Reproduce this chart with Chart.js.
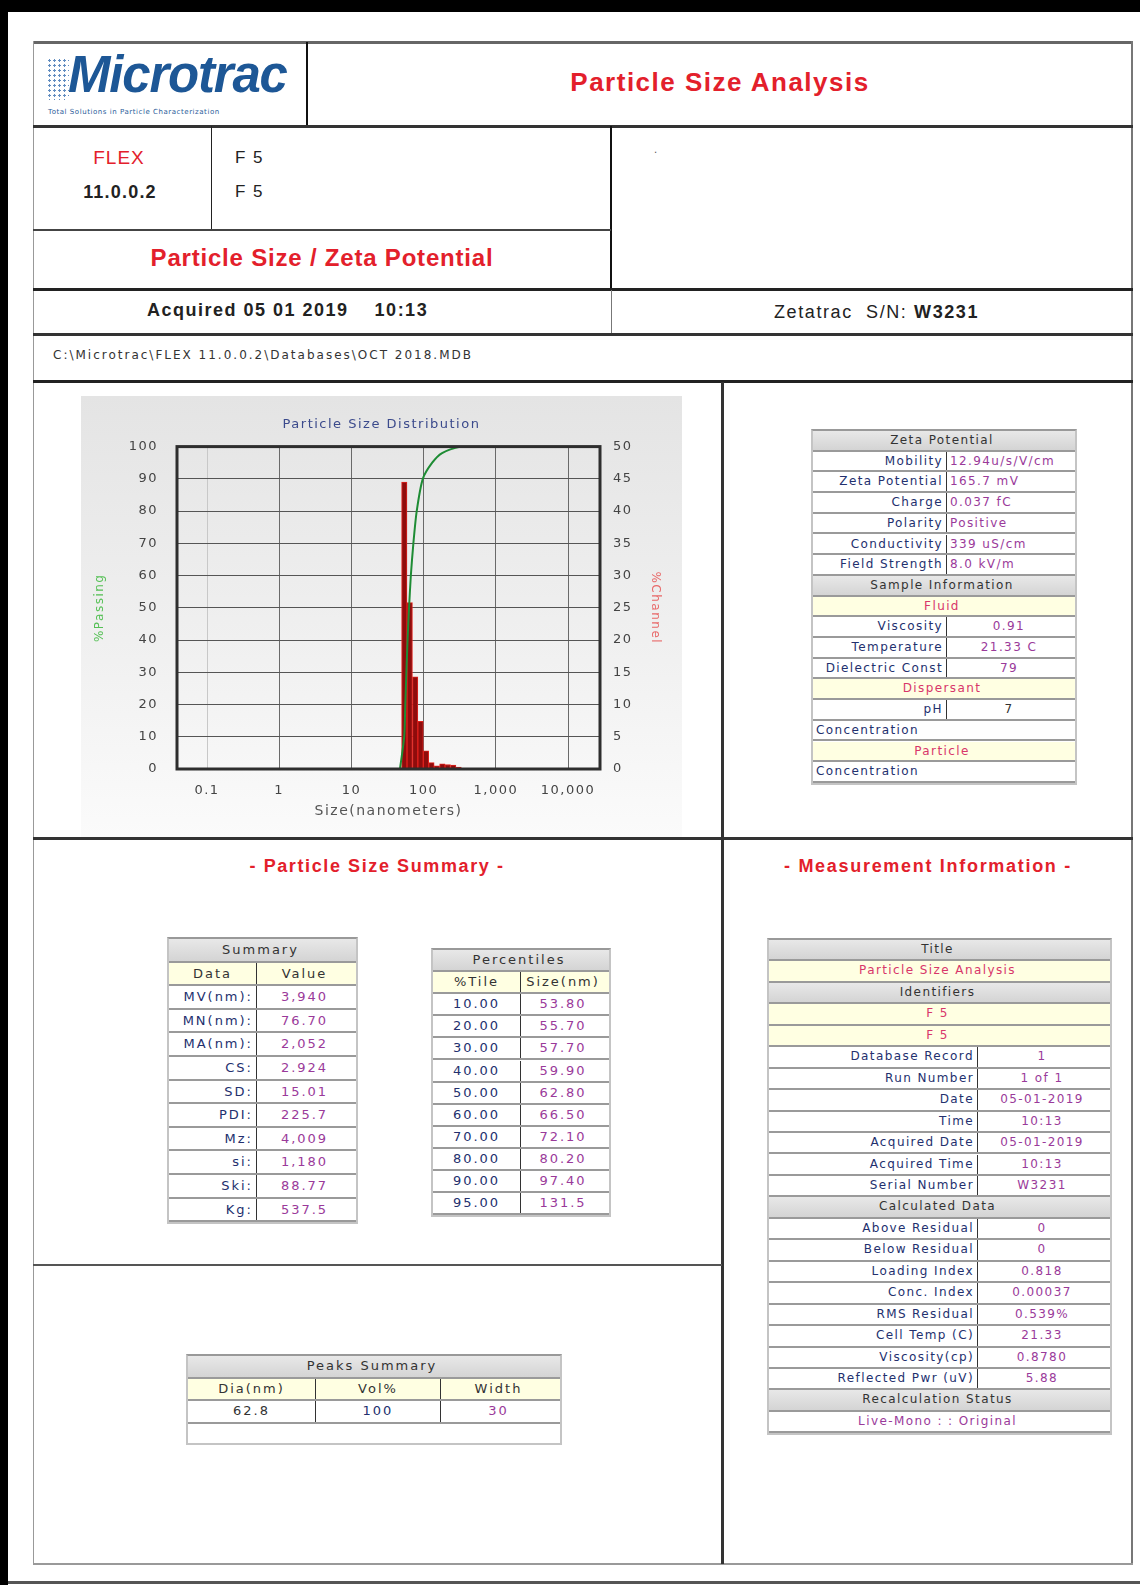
<!DOCTYPE html>
<html>
<head>
<meta charset="utf-8">
<script src="https://cdn.jsdelivr.net/npm/chart.js@4.4.1/dist/chart.umd.min.js"></script>
<style>
body { margin: 0; background: #fff; font-family: "DejaVu Sans", sans-serif; }
#page { position: relative; width: 1140px; height: 1585px; overflow: hidden; background: #fff; }
.box { position: absolute; }
.ln { position: absolute; background: #444; }
.txt { position: absolute; white-space: pre; }
.red { color: #e3202b; font-family: "Liberation Sans", Arial, sans-serif; font-weight: bold; }
.tbl { position: absolute; border: 2px solid #c4c4c4; border-top-color: #999; background: #fff; }
.row { position: absolute; left: 0; right: 0; border-bottom: 2px solid #9a9a9a; box-sizing: border-box; }
.row.head { background: linear-gradient(#e8e8e8, #d4d4d4); }
.row.band { background: #ffffe2; }
.cell { position: absolute; top: 0; bottom: 0; white-space: nowrap; overflow: hidden; box-sizing: border-box; padding: 0 3px; }
.sep { border-right: 1px solid #333; }
.c { text-align: center; }
.r { text-align: right; }
.l { text-align: left; }
.navy { color: #23306e; }
.purp { color: #9a3a9a; }
.grey { color: #333; }
.pink { color: #d8366a; }
.sm { font-size: 12px; letter-spacing: 1.4px; }
.md { font-size: 13px; letter-spacing: 2px; }
#chartWrap { position: absolute; left: 81px; top: 396px; width: 601px; height: 441px;
  background: linear-gradient(#e4e4e4, #f1f1f1 60%, #fbfbfb); }
</style>
</head>
<body>
<div id="page">
  <!-- outer black edges -->
  <div class="box" style="left:0;top:0;width:1140px;height:12px;background:#000"></div>
  <div class="box" style="left:0;top:0;width:8px;height:1585px;background:#000"></div>
  <div class="box" style="left:8px;top:1581px;width:1132px;height:3px;background:#555"></div>

  <!-- report frame -->
  <div class="ln" style="left:33px;top:41px;width:1100px;height:3px;background:#666"></div>
  <div class="ln" style="left:33px;top:41px;width:1px;height:1524px;background:#999"></div>
  <div class="ln" style="left:1131px;top:41px;width:2px;height:1524px;background:#777"></div>
  <div class="ln" style="left:33px;top:1563px;width:1100px;height:2px;background:#999"></div>
  <div class="ln" style="left:306px;top:42px;width:2px;height:84px;background:#111"></div>
  <div class="ln" style="left:33px;top:125px;width:1100px;height:3px;background:#333"></div>
  <div class="ln" style="left:211px;top:126px;width:1px;height:104px;background:#222"></div>
  <div class="ln" style="left:610px;top:126px;width:2px;height:164px;background:#111"></div>
  <div class="ln" style="left:33px;top:229px;width:578px;height:2px;background:#444"></div>
  <div class="ln" style="left:33px;top:288px;width:1100px;height:3px;background:#222"></div>
  <div class="ln" style="left:611px;top:290px;width:1px;height:45px;background:#777"></div>
  <div class="ln" style="left:33px;top:333px;width:1100px;height:3px;background:#333"></div>
  <div class="ln" style="left:33px;top:380px;width:1100px;height:3px;background:#222"></div>
  <div class="ln" style="left:721px;top:382px;width:3px;height:1182px;background:#333"></div>
  <div class="ln" style="left:33px;top:837px;width:1100px;height:3px;background:#333"></div>
  <div class="ln" style="left:33px;top:1264px;width:689px;height:2px;background:#555"></div>

  <!-- logo -->
  <div class="box" style="left:47px;top:58px;width:22px;height:42px;
    background-image:radial-gradient(circle,#3a6fb0 1.1px,transparent 1.4px);background-size:5px 5px;opacity:.8"></div>
  <div class="txt" style="left:68px;top:53px;height:44px;line-height:44px;font:italic bold 51px/44px 'Liberation Sans',Arial,sans-serif;color:#1d5796;letter-spacing:-1.2px">Microtrac</div>
  <div class="txt" style="left:48px;top:108px;font-size:7px;line-height:8px;color:#2a5c9a;letter-spacing:.55px">Total Solutions in Particle Characterization</div>

  <div class="txt red" style="left:308px;width:824px;top:67px;font-size:26px;letter-spacing:1.5px;text-align:center">Particle Size Analysis</div>

  <div class="txt red" style="left:33px;width:172px;top:147px;font-size:19px;font-weight:normal;letter-spacing:1px;text-align:center">FLEX</div>
  <div class="txt" style="left:33px;width:174px;top:182px;font:bold 18px 'Liberation Sans',Arial,sans-serif;letter-spacing:1.2px;color:#222;text-align:center">11.0.0.2</div>
  <div class="txt" style="left:235px;top:148px;font:17px 'Liberation Sans',Arial,sans-serif;letter-spacing:1.5px;color:#222">F 5</div>
  <div class="txt" style="left:235px;top:182px;font:17px 'Liberation Sans',Arial,sans-serif;letter-spacing:1.5px;color:#222">F 5</div>
  <div class="txt" style="left:654px;top:144px;font-size:10px;color:#555">.</div>

  <div class="txt red" style="left:33px;width:578px;top:244px;font-size:24px;letter-spacing:.8px;text-align:center">Particle Size / Zeta Potential</div>

  <div class="txt" style="left:147px;top:300px;font:bold 18px 'Liberation Sans',Arial,sans-serif;letter-spacing:1.5px;color:#222">Acquired 05 01 2019    10:13</div>
  <div class="txt" style="left:774px;top:302px;font:18px 'Liberation Sans',Arial,sans-serif;letter-spacing:1.6px;color:#222">Zetatrac  S/N: <b>W3231</b></div>

  <div class="txt" style="left:53px;top:348px;font-size:12px;letter-spacing:2px;color:#333">C:\Microtrac\FLEX 11.0.0.2\Databases\OCT 2018.MDB</div>

  <!-- chart -->
  <div id="chartWrap"><canvas id="psd" width="601" height="441"></canvas></div>

  <div class="txt red" style="left:33px;width:688px;top:856px;font-size:18px;letter-spacing:1.6px;text-align:center">- Particle Size Summary -</div>
  <div class="txt red" style="left:724px;width:408px;top:856px;font-size:18px;letter-spacing:1.7px;text-align:center">- Measurement Information -</div>

  <div id="zetaTbl" class="tbl"></div>
  <div id="sumTbl" class="tbl"></div>
  <div id="pctTbl" class="tbl"></div>
  <div id="peakTbl" class="tbl"></div>
  <div id="measTbl" class="tbl"></div>
</div>

<script>
// ---- distribution ----
const sizeTicks = [0.1, 1, 10, 100, 1000, 10000];
const chanSize = [53.96, 64.2, 76.3, 90.7, 107.9, 128.3, 152.6, 181.5, 215.8, 256.6, 305.2];
const chanPct = [44.5, 25.8, 14.3, 7.4, 2.8, 1.0, 0.5, 0.8, 0.7, 0.6, 0.3];
const cumSize = [47, 53.8, 55.7, 57.7, 59.9, 62.8, 66.5, 72.1, 80.2, 97.4, 131.5, 180, 330, 480];
const cumPct = [0, 10, 20, 30, 40, 50, 60, 70, 80, 90, 95, 98, 100, 100];

// ---- zeta potential / sample info ----
const zetaLabels = ['Mobility', 'Zeta Potential', 'Charge', 'Polarity', 'Conductivity', 'Field Strength'];
const zetaValues = ['12.94u/s/V/cm', '165.7 mV', '0.037 fC', 'Positive', '339 uS/cm', '8.0 kV/m'];
const fluidLabels = ['Viscosity', 'Temperature', 'Dielectric Const'];
const fluidValues = ['0.91', '21.33 C', '79'];
const dispLabels = ['pH'];
const dispValues = ['7'];

// ---- summary ----
const sumLabels = ['MV(nm):', 'MN(nm):', 'MA(nm):', 'CS:', 'SD:', 'PDI:', 'Mz:', 'si:', 'Ski:', 'Kg:'];
const sumValues = ['3,940', '76.70', '2,052', '2.924', '15.01', '225.7', '4,009', '1,180', '88.77', '537.5'];

// ---- percentiles ----
const pctTile = ['10.00', '20.00', '30.00', '40.00', '50.00', '60.00', '70.00', '80.00', '90.00', '95.00'];
const pctSize = ['53.80', '55.70', '57.70', '59.90', '62.80', '66.50', '72.10', '80.20', '97.40', '131.5'];

// ---- peaks ----
const peakDia = ['62.8'];
const peakVol = ['100'];
const peakWidth = ['30'];

// ---- measurement information ----
const measIds = ['F 5', 'F 5'];
const measLabels = ['Database Record', 'Run Number', 'Date', 'Time', 'Acquired Date', 'Acquired Time', 'Serial Number'];
const measValues = ['1', '1 of 1', '05-01-2019', '10:13', '05-01-2019', '10:13', 'W3231'];
const calcLabels = ['Above Residual', 'Below Residual', 'Loading Index', 'Conc. Index', 'RMS Residual', 'Cell Temp (C)', 'Viscosity(cp)', 'Reflected Pwr (uV)'];
const calcValues = ['0', '0', '0.818', '0.00037', '0.539%', '21.33', '0.8780', '5.88'];

function drawTable(id, box, rows) {
    const t = document.getElementById(id);
    t.style.left = box.x + 'px';
    t.style.top = box.y + 'px';
    t.style.width = box.w + 'px';
    t.style.height = (rows.length * box.rowH + (box.extra || 0)) + 'px';
    rows.forEach((r, i) => {
        const row = document.createElement('div');
        row.className = 'row ' + (r.kind || '');
        row.style.top = (i * box.rowH) + 'px';
        row.style.height = box.rowH + 'px';
        row.style.lineHeight = (box.rowH - 2) + 'px';
        r.cells.forEach((c) => {
            const cell = document.createElement('div');
            const from = c.from !== undefined ? c.from : 0;
            const to = c.to !== undefined ? c.to : box.w - 4;
            cell.className = 'cell ' + box.font + ' ' + (c.cls || '');
            cell.style.left = from + 'px';
            cell.style.width = (to - from) + 'px';
            cell.textContent = c.text;
            row.appendChild(cell);
        });
        t.appendChild(row);
    });
}

const head = (text) => ({ kind: 'head', cells: [{ text, cls: 'c grey' }] });
const band = (text) => ({ kind: 'band', cells: [{ text, cls: 'c pink' }] });
const kv = (label, value, split, vcls) => ({ cells: [
    { text: label, to: split, cls: 'r navy sep' },
    { text: value, from: split, cls: vcls }
] });

// zeta table
const zetaSplit = 134;
const zetaRows = [head('Zeta Potential')]
    .concat(zetaLabels.map((l, i) => kv(l, zetaValues[i], zetaSplit, 'l purp')))
    .concat([head('Sample Information'), band('Fluid')])
    .concat(fluidLabels.map((l, i) => kv(l, fluidValues[i], zetaSplit, 'c purp')))
    .concat([band('Dispersant')])
    .concat(dispLabels.map((l, i) => kv(l, dispValues[i], zetaSplit, 'c grey')))
    .concat([{ cells: [{ text: 'Concentration', cls: 'l navy' }] }, band('Particle'),
             { cells: [{ text: 'Concentration', cls: 'l navy' }] }]);
drawTable('zetaTbl', { x: 811, y: 429, w: 262, rowH: 20.7, font: 'sm' }, zetaRows);

// summary table
const sumSplit = 88;
const sumRows = [head('Summary'),
    { kind: 'band', cells: [{ text: 'Data', to: sumSplit, cls: 'c grey sep' }, { text: 'Value', from: sumSplit, cls: 'c grey' }] }]
    .concat(sumLabels.map((l, i) => kv(l, sumValues[i], sumSplit, 'c purp')));
drawTable('sumTbl', { x: 167, y: 937, w: 187, rowH: 23.6, font: 'md' }, sumRows);

// percentiles table
const pctSplit = 88;
const pctRows = [head('Percentiles'),
    { kind: 'band', cells: [{ text: '%Tile', to: pctSplit, cls: 'c grey sep' }, { text: 'Size(nm)', from: pctSplit, cls: 'c grey' }] }]
    .concat(pctTile.map((p, i) => ({ cells: [
        { text: p, to: pctSplit, cls: 'c navy sep' },
        { text: pctSize[i], from: pctSplit, cls: 'c purp' }] })));
drawTable('pctTbl', { x: 431, y: 948, w: 176, rowH: 22.1, font: 'md' }, pctRows);

// peaks table
const pk1 = 128, pk2 = 253;
const peakRows = [head('Peaks Summary'),
    { kind: 'band', cells: [
        { text: 'Dia(nm)', to: pk1, cls: 'c grey sep' },
        { text: 'Vol%', from: pk1, to: pk2, cls: 'c grey sep' },
        { text: 'Width', from: pk2, cls: 'c grey' }] }]
    .concat(peakDia.map((d, i) => ({ cells: [
        { text: d, to: pk1, cls: 'c grey sep' },
        { text: peakVol[i], from: pk1, to: pk2, cls: 'c navy sep' },
        { text: peakWidth[i], from: pk2, cls: 'c purp' }] })));
drawTable('peakTbl', { x: 186, y: 1354, w: 372, rowH: 22.5, font: 'md', extra: 19 }, peakRows);

// measurement information table
const measSplit = 209;
const measRows = [head('Title'), band('Particle Size Analysis'), head('Identifiers')]
    .concat(measIds.map(s => band(s)))
    .concat(measLabels.map((l, i) => kv(l, measValues[i], measSplit, 'c purp')))
    .concat([head('Calculated Data')])
    .concat(calcLabels.map((l, i) => kv(l, calcValues[i], measSplit, 'c purp')))
    .concat([head('Recalculation Status'), { cells: [{ text: 'Live-Mono : : Original', cls: 'c purp' }] }]);
drawTable('measTbl', { x: 767, y: 938, w: 341, rowH: 21.45, font: 'sm' }, measRows);

// ---- chart ----
const framePlugin = {
    id: 'frame',
    beforeDraw(chart) {
        chart.ctx.letterSpacing = '1.5px';
    },
    afterDraw(chart) {
        const { ctx, chartArea: a } = chart;
        ctx.save();
        ctx.strokeStyle = '#2e2e2e';
        ctx.lineWidth = 3;
        ctx.strokeRect(a.left, a.top, a.right - a.left, a.bottom - a.top);
        ctx.restore();
    }
};

const tickFont = { family: 'DejaVu Sans', size: 13 };

new Chart(document.getElementById('psd'), {
    type: 'bar',
    data: {
        datasets: [
            {
                type: 'line',
                label: '%Passing',
                data: cumSize.map((s, i) => ({ x: s, y: cumPct[i] })),
                borderColor: '#1e8c34',
                borderWidth: 2,
                pointRadius: 0,
                tension: 0.25,
                yAxisID: 'y',
                order: 0
            },
            {
                type: 'bar',
                label: '%Channel',
                data: chanSize.map((s, i) => ({ x: s, y: chanPct[i] })),
                backgroundColor: '#8e0c0c',
                borderColor: '#e0201c',
                borderWidth: 1,
                barPercentage: 1,
                categoryPercentage: 1,
                yAxisID: 'y1',
                order: 1
            }
        ]
    },
    options: {
        responsive: false,
        animation: false,
        devicePixelRatio: 1,
        plugins: {
            legend: { display: false },
            tooltip: { enabled: false },
            title: {
                display: true,
                text: 'Particle Size Distribution',
                color: '#3b4a8c',
                font: { family: 'DejaVu Sans', size: 13, weight: 'normal' },
                padding: { top: 21, bottom: 14 }
            }
        },
        scales: {
            x: {
                type: 'logarithmic',
                min: 0.0384,
                max: 27700,
                offset: false,
                afterBuildTicks: (scale) => { scale.ticks = sizeTicks.map(v => ({ value: v })); },
                afterFit: (scale) => { scale.height = 68; },
                ticks: {
                    autoSkip: false,
                    maxRotation: 0,
                    padding: 14,
                    color: '#444',
                    font: tickFont,
                    callback: (v) => Number(v).toLocaleString('en-US')
                },
                grid: {
                    offset: false,
                    drawTicks: false,
                    color: (c) => c.tick && c.tick.value === 0.1 ? '#c8c8c8' : '#6a6a6a'
                },
                border: { display: false },
                title: {
                    display: true,
                    text: 'Size(nanometers)',
                    color: '#555',
                    font: { family: 'DejaVu Sans', size: 14 },
                    padding: { top: 0, bottom: 17 }
                }
            },
            y: {
                position: 'left',
                min: 0,
                max: 100,
                afterFit: (scale) => { scale.width = 96; },
                ticks: { stepSize: 10, padding: 19, color: '#444', font: tickFont },
                grid: { drawTicks: false, color: '#555' },
                border: { display: false },
                title: {
                    display: true,
                    text: '%Passing',
                    color: '#55c055',
                    font: { family: 'DejaVu Sans', size: 12 },
                    padding: { top: 12, bottom: 0 }
                }
            },
            y1: {
                position: 'right',
                min: 0,
                max: 50,
                afterFit: (scale) => { scale.width = 82; },
                ticks: { stepSize: 5, padding: 13, color: '#444', font: tickFont },
                grid: { display: false, drawTicks: false },
                border: { display: false },
                title: {
                    display: true,
                    text: '%Channel',
                    color: '#e86a6a',
                    font: { family: 'DejaVu Sans', size: 12 },
                    padding: { top: 20, bottom: 0 }
                }
            }
        }
    },
    plugins: [framePlugin]
});
</script>
</body>
</html>
